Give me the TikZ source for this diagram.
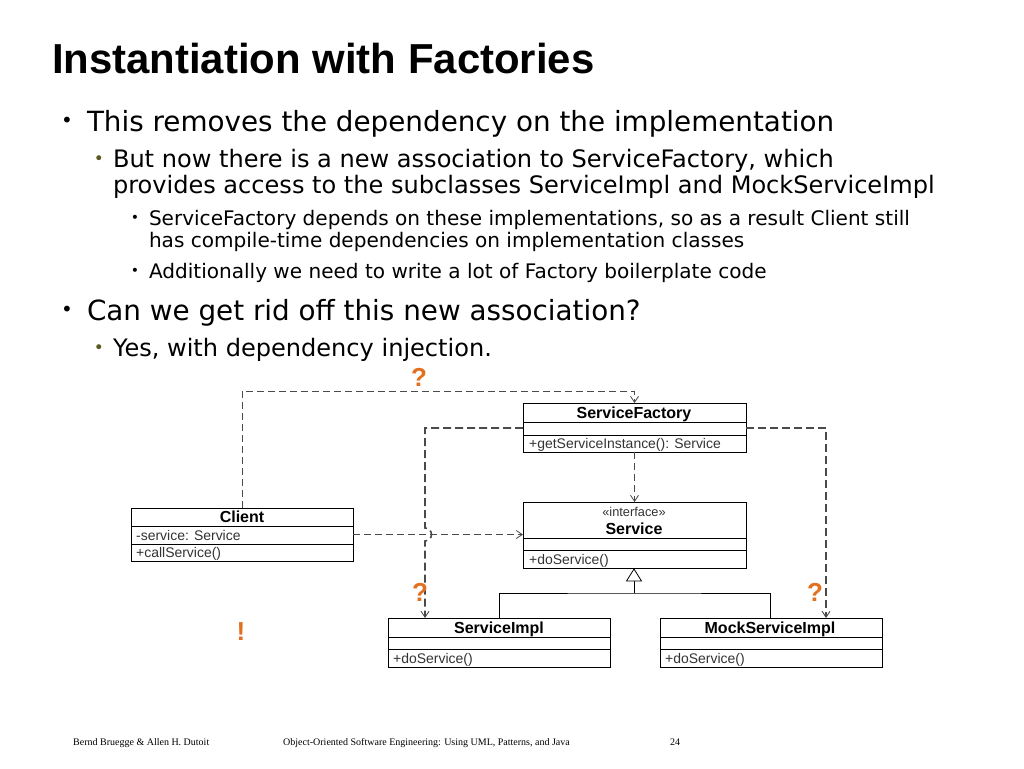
\documentclass[tikz,border=0pt]{standalone}
\usepackage{fontspec}
\setmainfont{DejaVu Sans}
\newfontfamily\arialf{Liberation Sans}
\newfontfamily\timesf{Liberation Serif}
\definecolor{qorange}{HTML}{E2701F}
\definecolor{lineg}{HTML}{4A4A4A}
\usetikzlibrary{arrows.meta,calc}
\tikzset{
  txt/.style={anchor=base west,inner sep=0pt,outer sep=0pt,text=black},
  lone/.style={txt,font=\fontsize{27.8}{30}\selectfont},
  ltwo/.style={txt,font=\fontsize{24.05}{26}\selectfont},
  lthree/.style={txt,font=\fontsize{20.05}{22}\selectfont},
  bul/.style={anchor=center,inner sep=0pt,text=black},
  box/.style={draw=black,line width=1pt,rectangle,inner sep=0pt,outer sep=0pt,fill=white},
  sep/.style={draw=black,line width=1pt},
  cname/.style={anchor=base,inner sep=0pt,font=\arialf\bfseries\fontsize{16}{18}\selectfont},
  cmem/.style={anchor=base west,inner sep=0pt,text=black!80,font=\arialf\fontsize{13.95}{16}\selectfont},
  dep/.style={draw=lineg,line width=0.9pt,dash pattern=on 7pt off 4pt,-{Straight Barb[length=6pt,width=8pt,line width=0.8pt]}},
  depb/.style={dep,line width=1.6pt,dash pattern=on 8pt off 4pt,-{Straight Barb[length=6pt,width=8pt,line width=0.9pt]}},
  gen/.style={draw=black,line width=0.8pt},
  qm/.style={anchor=center,inner sep=0pt,text=qorange,font=\arialf\bfseries\fontsize{26}{30}\selectfont},
  foot/.style={anchor=base west,inner sep=0pt,font=\timesf\fontsize{10}{12}\selectfont},
}
\newcommand{\umlbox}[7]{% name x1 y1 x2 y2 sep1 sep2
  \node[box,minimum width=#4pt-#2pt,minimum height=#5pt-#3pt] (#1) at ({(#2+#4)/2},{(#3+#5)/2}) {};
  \draw[sep] (#2,#6) -- (#4,#6) (#2,#7) -- (#4,#7);
}
\begin{document}
\begin{tikzpicture}[x=1pt,y=-1pt]
\useasboundingbox (0,0) rectangle (1024,768);
\fill[white] (0,0) rectangle (1024,768);
% title
\node[txt,font=\arialf\bfseries\fontsize{41.9}{44}\selectfont] (title) at (52,74) {Instantiation with Factories};
% text
\node[bul] (b1) at (67,122) {\fontsize{20}{20}\selectfont •};
\node[lone] (t1) at (87,131) {This removes the dependency on the implementation};
\node[bul] (b2) at (99,160) {\fontsize{17}{17}\selectfont\textcolor[HTML]{5A5A20}{•}};
\node[ltwo] (t2) at (113,167) {But now there is a new association to ServiceFactory, which};
\node[ltwo] (t3) at (113,193) {provides access to the subclasses ServiceImpl and MockServiceImpl};
\node[bul] (b3) at (135,219) {\fontsize{14}{14}\selectfont •};
\node[lthree] (t4) at (149,225) {ServiceFactory depends on these implementations, so as a result Client still};
\node[lthree] (t5) at (149,247) {has compile-time dependencies on implementation classes};
\node[bul] (b4) at (135,272) {\fontsize{14}{14}\selectfont •};
\node[lthree] (t6) at (149,278) {Additionally we need to write a lot of Factory boilerplate code};
\node[bul] (b5) at (67,311) {\fontsize{20}{20}\selectfont •};
\node[lone] (t7) at (87,320) {Can we get rid off this new association?};
\node[bul] (b6) at (99,349) {\fontsize{17}{17}\selectfont\textcolor[HTML]{5A5A20}{•}};
\node[ltwo] (t8) at (113,356) {Yes, with dependency injection.};
% classes
\umlbox{client}{131}{508}{353}{561}{526}{544}
\umlbox{factory}{523}{403}{746}{452}{422}{435}
\umlbox{service}{523}{502}{746}{568}{538}{550}
\umlbox{impl}{388}{618}{610}{667}{637}{649}
\umlbox{mock}{660}{618}{882}{667}{637}{649}
\node[cname] (nclient) at (242,522) {Client};
\node[cmem] (mclient1) at (136,540) {-service: Service};
\node[cmem] (mclient2) at (136,557) {+callService()};
\node[cname] (nfactory) at (634,418) {ServiceFactory};
\node[cmem] (mfactory) at (529,448) {+getServiceInstance(): Service};
\node[anchor=base,inner sep=0pt,text=black!80,font=\arialf\fontsize{12.8}{15}\selectfont] (sterotype) at (634,516) {«interface»};
\node[cname] (nservice) at (634,534) {Service};
\node[cmem] (mservice) at (529,564) {+doService()};
\node[cname] (nimpl) at (499,633) {ServiceImpl};
\node[cmem] (mimpl) at (393,663) {+doService()};
\node[cname] (nmock) at (770,633) {MockServiceImpl};
\node[cmem] (mmock) at (665,663) {+doService()};
% connectors
\coordinate (fl) at ($(factory.west)+(0,0.5)$);
\coordinate (fr) at ($(factory.east)+(0,0.5)$);
\coordinate (cr) at (353,534.5);
\coordinate (hopa) at (425,528);
\coordinate (sl) at (523,534.5);
\coordinate (itop) at (425,618);
\coordinate (mtop) at (826,618);
\draw[dep] (client.north) |- (300,391) -| (factory.north);
\draw[dep] (cr) -- (sl);
\draw[depb] (fl) -| (hopa) arc[start angle=90,end angle=-90,radius=6.5pt] -- (itop);
\draw[depb] (fr) -| (mtop);
\draw[dep] (factory.south) -- (service.north);
% generalization
\coordinate (gtip) at (634,569);
\coordinate (gbase) at (634,581);
\coordinate (gjoin) at (634,593);
\draw[gen] (gjoin) -- (gbase);
\draw[gen] (gtip) -- (641.5,581) -- (626.5,581) -- cycle;
\draw[gen] (impl.north -| nimpl) |- (gjoin) -| (mock.north -| nmock);
% marks
\node[qm] (q1) at (419,377) {?};
\node[qm] (q2) at (420,592) {?};
\node[qm] (q3) at (815,592) {?};
\node[qm] (q4) at (241,632) {!};
% footer
\node[foot] (f1) at (73,745) {Bernd Bruegge \& Allen H. Dutoit};
\node[foot] (f2) at (283,745) {Object-Oriented Software Engineering: Using UML, Patterns, and Java};
\node[foot] (f3) at (670,745) {24};
\end{tikzpicture}
\end{document}
